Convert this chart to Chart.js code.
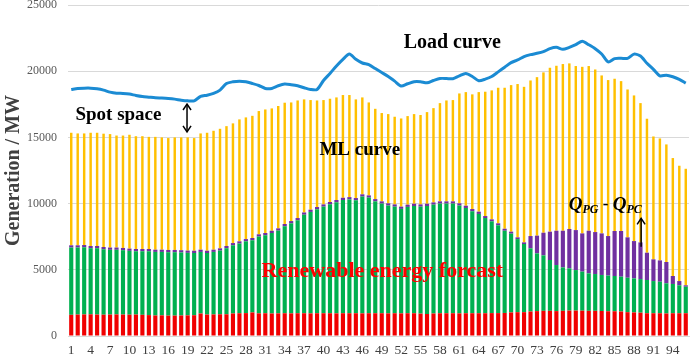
<!DOCTYPE html>
<html>
<head>
<meta charset="utf-8">
<script src="https://cdn.jsdelivr.net/npm/chart.js@4/dist/chart.umd.min.js"></script>
<style>
    html, body { margin: 0; padding: 0; background: #fff; }
    #wrap { position: relative; width: 692px; height: 360px; }
</style>
</head>
<body>
<div id="wrap"><canvas id="chart"></canvas></div>
<script>
    // 96 quarter-hour periods
    const periods = Array.from({ length: 96 }, (_, i) => String(i + 1));

    // top of the red part (base output)
    const redTop = [
        1600, 1620, 1630, 1640, 1620, 1610, 1620, 1630, 1620, 1610, 1620, 1600, 1580, 1550, 1560, 1540, 1540, 1550, 1560, 1570,
        1700, 1620, 1630, 1640, 1640, 1700, 1720, 1730, 1780, 1710,
        1720, 1700, 1710, 1720, 1710, 1720, 1720, 1710, 1720, 1720,
        1720, 1710, 1720, 1720, 1720, 1710, 1720, 1720, 1720, 1710,
        1720, 1710, 1720, 1720, 1690, 1660, 1700, 1720, 1720, 1720,
        1710, 1720, 1720, 1720, 1720, 1730, 1730, 1740, 1780, 1800,
        1800, 1850, 1880, 1900, 1900, 1880, 1900, 1920, 1920, 1910,
        1900, 1900, 1890, 1870, 1870, 1850, 1800, 1780, 1760, 1720,
        1720, 1720, 1700, 1720, 1720, 1720
    ];

    // top of the green part (renewable energy forecast)
    const greenTop = [
        6680, 6680, 6700, 6630, 6630, 6550, 6510, 6510, 6480, 6430, 6400, 6400, 6400, 6350, 6350, 6330, 6330, 6310, 6280, 6270,
        6350, 6270, 6350, 6450, 6630, 6850, 6980, 7150, 7230, 7510, 7610,
        7780, 7960, 8290, 8510, 8740, 9160, 9370, 9570, 9770, 9950, 10100, 10270, 10320, 10250, 10530, 10450, 10170,
        10000, 9850, 9770, 9600, 9750, 9820, 9770, 9820, 9920, 10000, 10000, 10000, 9850, 9670, 9420, 9220,
        8910, 8660, 8360, 7950, 7730, 7320, 6950,
        6620, 6240, 6090, 5740, 5360, 5180, 5110, 4980, 4860, 4730, 4680, 4610, 4560, 4530, 4480,
        4400, 4350, 4300, 4230, 4150, 4100, 3980, 3930, 3830, 3720
    ];

    // top of the purple part (QPG - QPC)
    const purpleTop = [
        6850, 6850, 6870, 6800, 6800, 6720, 6680, 6680, 6650, 6600, 6570, 6570, 6570, 6520, 6520, 6500, 6500, 6480, 6450, 6440,
        6520, 6440, 6520, 6620, 6800, 7020, 7150, 7320, 7400, 7680, 7780,
        7950, 8130, 8460, 8680, 8910, 9330, 9540, 9740, 9940, 10120, 10270, 10440, 10490, 10420, 10700, 10620, 10340,
        10170, 10020, 9940, 9770, 9920, 9990, 9940, 9990, 10090, 10170, 10170, 10170, 10020, 9840, 9590, 9390,
        9060, 8810, 8510, 8100, 7880, 7450, 7070,
        7550, 7580, 7800, 7880, 7950, 7950, 8080, 8000, 7750, 7950, 7850, 7750, 7550, 7930, 7930,
        7450, 7170, 7070, 6290, 5790, 5710, 5590, 4530, 4150, 3830
    ];

    // top of the orange bars (ML curve)
    const mlCurve = [
        15350, 15300, 15300, 15350, 15350, 15280, 15250, 15140, 15140, 15200, 15090, 15090, 15040, 15040, 15000, 14950, 15000, 15000, 15000, 14950,
        15300, 15350, 15500, 15650, 15850, 16060, 16360, 16510, 16630, 16990, 17110,
        17190, 17370, 17620, 17640, 17790, 17870, 17820, 17790, 17820, 17920, 18020, 18200, 18200, 17870, 18020, 17640, 17160,
        16840, 16760, 16560, 16430, 16610, 16760, 16690, 16910, 17210, 17590, 17790, 17820, 18320, 18420, 18250, 18420,
        18450, 18550, 18750, 18750, 18950, 19030, 18820, 19300, 19550, 19910, 20260, 20410, 20540, 20590, 20390, 20330,
        20390, 20130, 19680, 19330, 19430, 19250, 18620, 18170, 17590, 16410, 15070, 14920, 14470, 13440, 12860, 12630
    ];

    // load curve
    const loadCurve = [
        18620, 18700, 18720, 18720, 18670, 18570, 18420, 18340, 18320, 18270, 18170, 18090, 18040, 17990, 17970, 17940, 17890, 17810, 17760, 17760,
        18100, 18190, 18320, 18570, 19070, 19200, 19250, 19200, 19070, 18920, 18700,
        18700, 18900, 19030, 18980, 18900, 18750, 18620, 18620, 19300, 19830, 20400, 20900, 21290, 20900, 20620, 20500, 20200,
        19900, 19600, 19250, 18880, 19050, 19200, 19200, 19120, 19300, 19450, 19450, 19430, 19650, 19830, 19600, 19280,
        19400, 19600, 19950, 20300, 20650, 20850, 21100, 21250, 21350, 21480, 21700, 21800, 21650, 21800, 22000, 22270,
        22000, 21700, 21300, 20700, 20950, 20970, 20970, 21290, 21150, 20600, 20140, 19650, 19700, 19580, 19380, 19100
    ];

    const diff = (top, bottom) => top.map((v, i) => v - bottom[i]);

    const serif = "'Liberation Serif', 'Times New Roman', serif";

    const drawArrowHead = (ctx, x, y, dir) => {
        ctx.beginPath();
        ctx.moveTo(x - 4, y + dir * 6);
        ctx.lineTo(x, y);
        ctx.lineTo(x + 4, y + dir * 6);
        ctx.stroke();
    };

    const annotations = {
        id: "annotations",
        afterDatasetsDraw(chart) {
            const { ctx } = chart;
            const xs = chart.scales.x;
            const ys = chart.scales.y;
            const px = (i) => xs.getPixelForValue(i);
            const py = (v) => ys.getPixelForValue(v);

            ctx.save();
            ctx.textAlign = "center";
            ctx.textBaseline = "middle";
            ctx.fillStyle = "#000";
            ctx.font = `bold 19px ${serif}`;
            ctx.fillText("Spot space", px(7.3), py(16690));
            ctx.fillText("ML curve", px(44.6), py(14040));
            ctx.font = `bold 20px ${serif}`;
            ctx.fillText("Load curve", px(58.9), py(22120));

            ctx.fillStyle = "#ff0000";
            ctx.font = `bold 22px ${serif}`;
            ctx.fillText("Renewable energy forcast", px(48.1), py(4900));

            // Q_PG - Q_PC
            ctx.fillStyle = "#000";
            ctx.textAlign = "left";
            let x = px(83.1) - 40;
            const y = py(9890);
            const part = (text, font, dy) => {
                ctx.font = font;
                ctx.fillText(text, x, y + dy);
                x += ctx.measureText(text).width;
            };
            part("Q", `italic bold 19px ${serif}`, 0);
            part("PG", `italic bold 12px ${serif}`, 5);
            part(" - ", `bold 17px ${serif}`, 0);
            part("Q", `italic bold 19px ${serif}`, 0);
            part("PC", `italic bold 12px ${serif}`, 5);

            // arrows
            ctx.strokeStyle = "#000";
            ctx.lineWidth = 1.5;
            const ax = px(17.9);
            ctx.beginPath();
            ctx.moveTo(ax, py(17520));
            ctx.lineTo(ax, py(15420));
            ctx.stroke();
            drawArrowHead(ctx, ax, py(17520), 1);
            drawArrowHead(ctx, ax, py(15420), -1);

            const bx = px(88.1);
            ctx.beginPath();
            ctx.moveTo(bx, py(6740));
            ctx.lineTo(bx, py(8880));
            ctx.stroke();
            drawArrowHead(ctx, bx, py(8880), 1);
            ctx.restore();
        }
    };

    const wide = 0.64;
    const narrow = 0.38;

    new Chart(document.getElementById("chart"), {
        data: {
            labels: periods,
            datasets: [
                {
                    type: "line",
                    label: "Load curve",
                    data: loadCurve,
                    borderColor: "#1b8bd3",
                    borderWidth: 3,
                    pointRadius: 0,
                    tension: 0.25,
                    stack: "load",
                    order: 0
                },
                { type: "bar", label: "Base", data: redTop, backgroundColor: "#f00000", stack: "gen", barPercentage: wide, categoryPercentage: 1, order: 1 },
                { type: "bar", label: "Renewable", data: diff(greenTop, redTop), backgroundColor: "#00b050", stack: "gen", barPercentage: wide, categoryPercentage: 1, order: 1 },
                { type: "bar", label: "QPG - QPC", data: diff(purpleTop, greenTop), backgroundColor: "#7030a0", stack: "gen", barPercentage: wide, categoryPercentage: 1, order: 1 },
                { type: "bar", label: "ML curve", data: diff(mlCurve, purpleTop), backgroundColor: "#ffc000", stack: "gen", barPercentage: narrow, categoryPercentage: 1, order: 1 }
            ]
        },
        options: {
            responsive: true,
            maintainAspectRatio: false,
            animation: false,
            layout: { autoPadding: false, padding: { top: 0, right: 3, left: 3, bottom: 0 } },
            plugins: {
                legend: { display: false },
                tooltip: { enabled: false }
            },
            scales: {
                x: {
                    stacked: true,
                    grid: { display: false, drawTicks: false },
                    border: { color: "#d9d9d9" },
                    afterFit: (scale) => {
                        scale.height = 24;
                    },
                    ticks: {
                        autoSkip: false,
                        maxRotation: 0,
                        color: "#404040",
                        padding: 6,
                        font: { family: serif, size: 13.5 },
                        callback: (value, index) => (index % 3 === 0 ? periods[index] : "")
                    }
                },
                y: {
                    stacked: true,
                    min: 0,
                    max: 25000,
                    grid: { color: "#d9d9d9", drawTicks: false },
                    border: { display: false },
                    afterFit: (scale) => {
                        scale.paddingTop = 5;
                        scale.paddingBottom = 0;
                        scale.width -= 11;
                    },
                    ticks: {
                        stepSize: 5000,
                        color: "#595959",
                        padding: 11,
                        font: { family: serif, size: 12 },
                        callback: (value) => String(value)
                    },
                    title: {
                        display: true,
                        text: "Generation / MW",
                        color: "#404040",
                        font: { family: serif, size: 20, weight: "bold", lineHeight: 1.1 },
                        padding: { top: 0, bottom: 2 }
                    }
                }
            }
        },
        plugins: [annotations]
    });
</script>
</body>
</html>
